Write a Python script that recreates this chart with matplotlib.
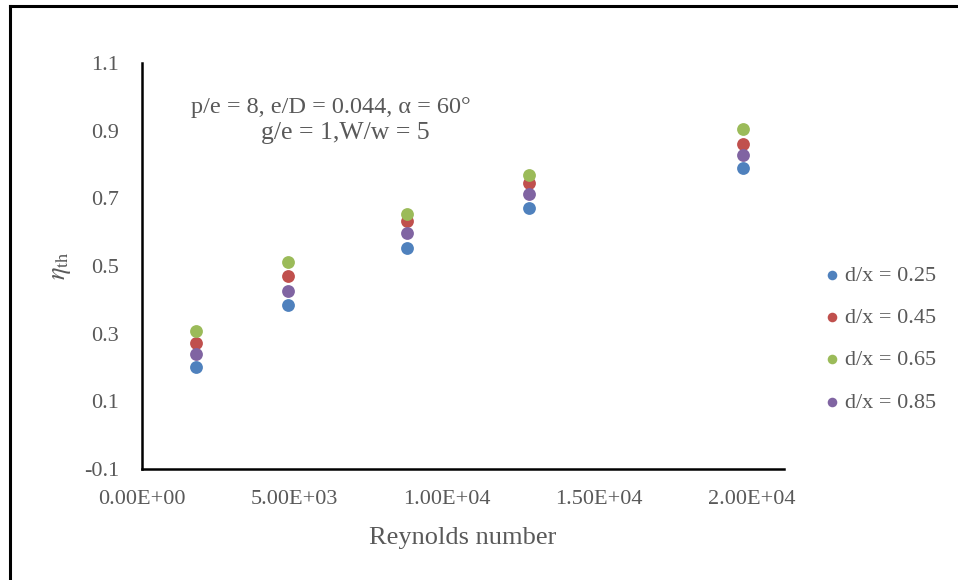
import matplotlib
matplotlib.use('Agg')
import matplotlib.pyplot as plt
from matplotlib.lines import Line2D
from matplotlib.ticker import FormatStrFormatter

plt.rcParams['font.family'] = 'Liberation Serif'
plt.rcParams['mathtext.fontset'] = 'stix'

reynolds = [1800, 4800, 8700, 12700, 19700]
labels = ['d/x = 0.25', 'd/x = 0.45', 'd/x = 0.65', 'd/x = 0.85']
eta_025 = [0.201, 0.386, 0.554, 0.671, 0.790]
eta_045 = [0.273, 0.471, 0.633, 0.746, 0.862]
eta_065 = [0.308, 0.513, 0.654, 0.768, 0.904]
eta_085 = [0.239, 0.425, 0.597, 0.714, 0.828]
colors = ['#4F81BD', '#C0504D', '#9BBB59', '#8064A2']

grey = '#595959'

fig = plt.figure(figsize=(9.58, 5.8), dpi=100)
ax = fig.add_axes([141.5 / 958, 1 - 469 / 580, 642.5 / 958, 406 / 580])

for vals, lab, c in zip([eta_025, eta_045, eta_065, eta_085], labels, colors):
    ax.scatter(reynolds, vals, s=85, color=c, label=lab, linewidths=0, zorder=3)

ax.set_xlim(0, 21050)
ax.set_ylim(-0.1, 1.1)
ax.set_xticks([0, 5000, 10000, 15000, 20000])
ax.set_xticklabels(['0.00E+00', '5.00E+03', '1.00E+04', '1.50E+04', '2.00E+04'])
ax.set_yticks([-0.1, 0.1, 0.3, 0.5, 0.7, 0.9, 1.1])
ax.yaxis.set_major_formatter(FormatStrFormatter('%.1f'))
ax.tick_params(axis='both', length=0, labelsize=16, labelcolor=grey)
ax.tick_params(axis='y', pad=16)
ax.tick_params(axis='x', pad=15)

for side in ['top', 'right']:
    ax.spines[side].set_visible(False)
for side in ['left', 'bottom']:
    ax.spines[side].set_linewidth(1.8)
    ax.spines[side].set_color('black')

ax.set_xlabel('Reynolds number', fontsize=19, color=grey)
ax.xaxis.set_label_coords(0.5, -0.17)
ax.xaxis.label.set_va('center')
ax.set_ylabel(r'$\eta_{\rm th}$', fontsize=19, color=grey)
ax.yaxis.set_label_coords(-0.124, 0.5)
ax.yaxis.label.set_va('center')

fig.text(331 / 958, 1 - 107 / 580, 'p/e = 8, e/D = 0.044, α = 60°', fontsize=17.5,
         color=grey, ha='center', va='center')
fig.text(345 / 958, 1 - 133 / 580, 'g/e = 1,W/w = 5', fontsize=18.5,
         color=grey, ha='center', va='center')

leg = ax.legend(loc='upper left', bbox_to_anchor=(825 / 958, 1 - 265 / 580),
                bbox_transform=fig.transFigure, frameon=False, fontsize=16,
                handlelength=0.6, handletextpad=0.3, labelspacing=0.98,
                borderpad=0, borderaxespad=0, markerscale=0.75)
for t in leg.get_texts():
    t.set_color(grey)

# outer frame (left and top edges only)
fig.add_artist(Line2D([9.5 / 958, 9.5 / 958], [0, 1 - 6 / 580], color='black', linewidth=2.2,
                      transform=fig.transFigure))
fig.add_artist(Line2D([9.5 / 958, 1], [1 - 6 / 580, 1 - 6 / 580], color='black', linewidth=2.2,
                      transform=fig.transFigure))

fig.savefig('out.png', dpi=100)
